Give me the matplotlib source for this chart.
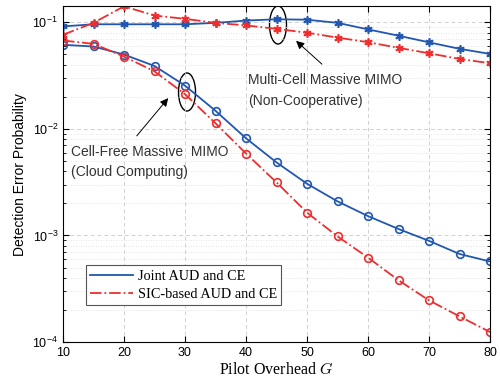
import matplotlib
matplotlib.use("Agg")
import matplotlib.pyplot as plt
from matplotlib.patches import Ellipse
from matplotlib.transforms import IdentityTransform

G = [10, 15, 20, 25, 30, 35, 40, 45, 50, 55, 60, 65, 70, 75, 80]
mc_joint = [0.0917, 0.096, 0.096, 0.096, 0.096, 0.099, 0.104, 0.107, 0.106, 0.099, 0.086, 0.075, 0.065, 0.0565, 0.0506]
mc_sic = [0.0765, 0.099, 0.1415, 0.116, 0.108, 0.099, 0.0937, 0.087, 0.080, 0.072, 0.0652, 0.0577, 0.0513, 0.0454, 0.0414]
cf_joint = [0.0616, 0.0594, 0.0499, 0.039, 0.0255, 0.0148, 0.00817, 0.00485, 0.00306, 0.00209, 0.00152, 0.00115, 0.00089, 0.00067, 0.00057]
cf_sic = [0.0676, 0.0629, 0.0478, 0.0347, 0.0212, 0.0113, 0.00588, 0.00315, 0.00164, 0.00098, 0.00062, 0.00038, 0.000246, 0.000174, 0.000124]
legend_labels = ["Joint AUD and CE", "SIC-based AUD and CE"]

blue = "#2157b0"
red = "#ee2e2e"

plt.rcParams['font.family'] = ['Liberation Sans', 'DejaVu Sans']
plt.rcParams['mathtext.fontset'] = 'cm'

fig = plt.figure(figsize=(5.0, 3.86), dpi=100)
ax = fig.add_axes([0.126, 0.114, 0.854, 0.870])

ast = (6, 2, 0)
ax.plot(G, mc_joint, '-', color=blue, lw=1.3, marker=ast, ms=6, mew=1.2)
ax.plot(G, mc_sic, '-.', color=red, lw=1.3, marker=ast, ms=6, mew=1.2)
l1, = ax.plot(G, cf_joint, '-', color=blue, lw=1.3, marker='o', ms=5.5, mfc='none', mew=1.2)
l2, = ax.plot(G, cf_sic, '-.', color=red, lw=1.3, marker='o', ms=5.5, mfc='none', mew=1.2)

ax.set_yscale('log')
ax.set_xlim(10, 80)
ax.set_ylim(1e-4, 0.142)
ax.set_xticks(range(10, 81, 10))
ax.grid(True, which='major', ls=(0, (4, 3)), color='#d0d0d0', lw=0.7)
ax.grid(True, which='minor', axis='y', ls=(0, (1, 2)), color='#dcdcdc', lw=0.6)
ax.tick_params(which='both', direction='in', top=True, right=True, labelsize=9)
ax.tick_params(which='major', length=4)
ax.tick_params(which='minor', length=2)
for s in ax.spines.values():
    s.set_linewidth(0.8)

ax.set_xlabel(r"Pilot Overhead $G$", family='Liberation Serif', fontsize=11.5, labelpad=2)
ax.set_ylabel("Detection Error Probability", fontsize=10, labelpad=4)

for (px, py) in [(278, 25), (187, 92)]:
    e = Ellipse((px, 386 - py), width=17, height=38, transform=IdentityTransform(),
                fill=False, lw=1.0, edgecolor='black')
    ax.add_artist(e)

def pix(px, py):
    return (px / 500.0, 1 - py / 386.0)

ax.annotate("", xy=pix(294, 39), xycoords='figure fraction', xytext=pix(324, 66), textcoords='figure fraction',
            arrowprops=dict(arrowstyle='-|>', color='black', lw=0.7, mutation_scale=12))
ax.annotate("", xy=pix(170, 96), xycoords='figure fraction', xytext=pix(135, 138), textcoords='figure fraction',
            arrowprops=dict(arrowstyle='-|>', color='black', lw=0.7, mutation_scale=12))

fig.text(*pix(248, 80), "Multi-Cell Massive MIMO", fontsize=10, color='#333333', va='center', ha='left')
fig.text(*pix(248, 101), "(Non-Cooperative)", fontsize=10, color='#333333', va='center', ha='left')
fig.text(*pix(71, 152), "Cell-Free Massive  MIMO", fontsize=10, color='#333333', va='center', ha='left')
fig.text(*pix(71, 172), "(Cloud Computing)", fontsize=10, color='#333333', va='center', ha='left')

leg = ax.legend([l1, l2], legend_labels, loc='lower left', bbox_to_anchor=(0.054, 0.11),
                prop={'family': 'Liberation Serif', 'size': 10.3}, fancybox=False, framealpha=1,
                edgecolor='#555555', handlelength=3.0, handletextpad=0.3, borderpad=0.3,
                labelspacing=0.35, borderaxespad=0.0)
leg.get_frame().set_linewidth(0.8)
for h in leg.get_lines():
    h.set_marker('')

fig.savefig("out.png", dpi=100)
